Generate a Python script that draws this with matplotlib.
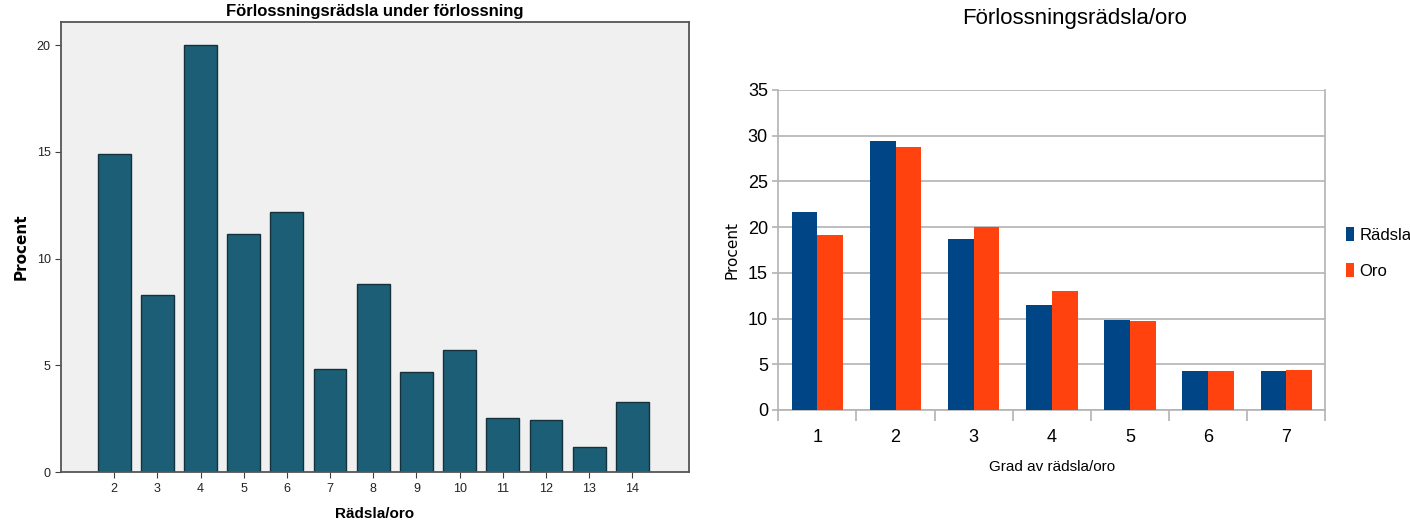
import matplotlib
matplotlib.use("Agg")
import matplotlib.pyplot as plt
import numpy as np

plt.rcParams['font.family'] = ['Liberation Sans Narrow', 'Liberation Sans', 'DejaVu Sans']

#--------------------#
# DATA
# left chart: Rädsla/oro score vs percent
scores = [2, 3, 4, 5, 6, 7, 8, 9, 10, 11, 12, 13, 14]
score_pct = [14.9, 8.3, 20.0, 11.15, 12.2, 4.85, 8.8, 4.7, 5.7, 2.55, 2.45, 1.2, 3.3]

# right chart: grad av rädsla/oro
grades = ['1', '2', '3', '4', '5', '6', '7']
radsla = [21.6, 29.35, 18.65, 11.5, 9.8, 4.25, 4.25]
oro = [19.1, 28.8, 20.05, 13.05, 9.7, 4.25, 4.4]

#--------------------#
fig = plt.figure(figsize=(14.1, 5.24), dpi=100)

#LEFT CHART
ax1 = fig.add_axes([0.0433, 0.099, 0.445, 0.859])
ax1.set_facecolor('#F0F0F0')
ax1.bar(scores, score_pct, width=0.76, color='#1C5E75', edgecolor='#15323C', linewidth=1.0)
ax1.set_xlim(0.77, 15.3)
ax1.set_ylim(0, 21.08)
ax1.set_xticks(scores)
ax1.set_yticks([0, 5, 10, 15, 20])
ax1.tick_params(axis='both', labelsize=9, length=4, color='#404040', labelcolor='#222222')
for s in ax1.spines.values():
    s.set_color('#555555')
    s.set_linewidth(1.3)
ax1.set_title('Förlossningsrädsla under förlossning', fontsize=12, fontweight='bold', pad=4)
ax1.set_xlabel('Rädsla/oro', fontsize=11, fontweight='bold', labelpad=9)
ax1.set_ylabel('Procent', fontsize=11, fontweight='bold', labelpad=6, family='DejaVu Sans')

#RIGHT CHART
ax2 = fig.add_axes([0.552, 0.2176, 0.388, 0.611])
x = np.arange(1, len(grades) + 1)
w = 0.33
ax2.bar(x - w / 2, radsla, width=w, color='#004586', label='Rädsla', zorder=3)
ax2.bar(x + w / 2, oro, width=w, color='#FF420E', label='Oro', zorder=3)
ax2.set_xlim(0.5, 7.5)
ax2.set_ylim(0, 35)
ax2.set_yticks(range(0, 36, 5))
ax2.yaxis.grid(True, color='#B3B3B3', linewidth=1.2, zorder=0)
ax2.set_xticks(np.arange(0.5, 8, 1))
ax2.set_xticklabels([])
ax2.set_xticks(x, minor=True)
ax2.set_xticklabels(grades, minor=True)
ax2.tick_params(axis='x', which='major', length=8, color='#B3B3B3', width=1.2)
ax2.tick_params(axis='x', which='minor', length=0, labelsize=13, pad=14)
ax2.tick_params(axis='y', length=4, color='#B3B3B3', labelsize=13, width=1.2)
for s in ['top']:
    ax2.spines[s].set_visible(False)
for s in ['left', 'right', 'bottom']:
    ax2.spines[s].set_color('#B3B3B3')
    ax2.spines[s].set_linewidth(1.2)
ax2.set_ylabel('Procent', fontsize=11, labelpad=6, family='DejaVu Sans')
ax2.set_xlabel('Grad av rädsla/oro', fontsize=11, labelpad=10)
fig.text(0.762, 0.965, 'Förlossningsrädsla/oro', fontsize=16, ha='center', va='center')
ax2.legend(loc='center left', bbox_to_anchor=(1.01, 0.49), frameon=False, fontsize=12,
           handlelength=0.5, handleheight=0.9, handletextpad=0.3, labelspacing=1.2)

plt.savefig('out.png', dpi=100)
